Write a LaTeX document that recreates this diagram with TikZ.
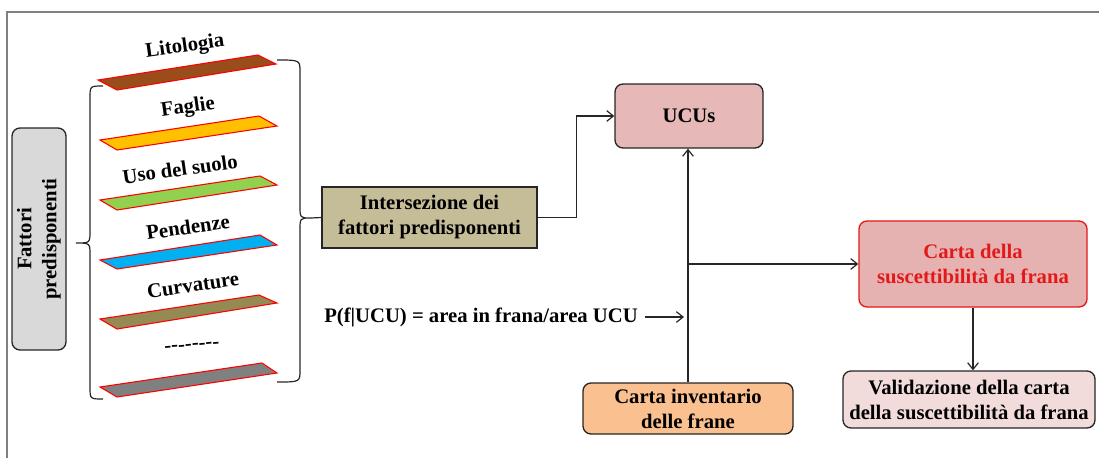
\documentclass[tikz,border=0pt]{standalone}
\usepackage{fontspec}
\setmainfont{Liberation Serif}
\usetikzlibrary{arrows.meta}
\definecolor{fattgray}{HTML}{D9D9D9}
\definecolor{tanbox}{HTML}{C4BD97}
\definecolor{ucupink}{HTML}{E6B8B7}
\definecolor{suspink}{HTML}{E6B2B1}
\definecolor{valpink}{HTML}{F2DCDB}
\definecolor{invorange}{HTML}{FAC090}
\definecolor{susred}{RGB}{225,25,25}
\definecolor{lito}{RGB}{153,77,26}
\definecolor{fagl}{HTML}{FFC000}
\definecolor{usos}{HTML}{92D050}
\definecolor{pend}{HTML}{00B0F0}
\definecolor{curv}{HTML}{948A54}
\definecolor{lastl}{HTML}{808080}
\definecolor{frame}{RGB}{128,128,128}
\begin{document}
\begin{tikzpicture}[x=0.75pt,y=-0.75pt,
  txt/.style={font=\fontsize{15.5}{18.75}\selectfont\bfseries, align=center},
  box/.style={txt, draw=black!85, line width=1pt, inner sep=2pt},
  rbox/.style={box, rounded corners=6pt},
  arr/.style={-{Straight Barb[length=5pt,width=8pt]}, line width=0.9pt, draw=black!85},
  brace/.style={line width=0.9pt, draw=black!85},
  layer/.style={draw=red, line width=0.8pt},
  lbl/.style={txt, rotate=8, inner sep=0pt}]
\useasboundingbox (0,0) rectangle (1099,458);
\draw[frame, line width=1.2pt] (1099,12) -- (7,12) -- (7,458);

% nodes
\node[rbox, fill=fattgray, rotate=90, minimum width=166.5pt, minimum height=40.5pt] (fat) at (39,239) {Fattori\\predisponenti};
\node[box, fill=tanbox, minimum width=161.25pt, minimum height=45.75pt] (int) at (429.5,217.5) {Intersezione dei\\fattori predisponenti};
\node[rbox, fill=ucupink, minimum width=111pt, minimum height=48pt] (ucu) at (689,116) {UCUs};
\node[rbox, fill=invorange, minimum width=157.5pt, minimum height=38.25pt] (inv) at (688,408.5) {Carta inventario\\delle frane};
\node[rbox, draw=susred, fill=suspink, text=susred, minimum width=171pt, minimum height=64.5pt] (sus) at (973,264) {Carta della\\suscettibilità da frana};
\node[rbox, fill=valpink, minimum width=189pt, minimum height=42.75pt] (val) at (969,399.5) {Validazione della carta\\della suscettibilità da frana};
\node[txt, inner sep=0pt, anchor=west] (pf) at (324,317) {P(f|UCU) = area in frana/area UCU};

% layers
\filldraw[layer, fill=lito]  (98,80)  -- (117,90)  -- (276,64)  -- (258,55)  -- cycle;
\filldraw[layer, fill=fagl]  (100,140) -- (117,150) -- (277,126) -- (259,116) -- cycle;
\filldraw[layer, fill=usos]  (100,200) -- (117,210) -- (277,185) -- (260,176) -- cycle;
\filldraw[layer, fill=pend]  (100,260) -- (117,269) -- (277,245) -- (260,235) -- cycle;
\filldraw[layer, fill=curv]  (100,319) -- (117,329) -- (277,303) -- (259,295) -- cycle;
\filldraw[layer, fill=lastl] (100,387) -- (117,397) -- (277,373) -- (262,363) -- cycle;

\node[lbl] (l1) at (185,47) {Litologia};
\node[lbl] (l2) at (188,108) {Faglie};
\node[lbl] (l3) at (180,169) {Uso del suolo};
\node[lbl] (l4) at (188,227) {Pendenze};
\node[lbl] (l5) at (193,285) {Curvature};
\node[lbl, rotate=-3] (l6) at (192,347) {\mbox{-}\mbox{-}\mbox{-}\mbox{-}\mbox{-}\mbox{-}\mbox{-}\mbox{-}};

% braces
\draw[brace] (103,86) .. controls (90,86) .. (90,98) -- (90,231)
  .. controls (90,243) .. (76,243) .. controls (90,243) .. (90,255)
  -- (90,387) .. controls (90,399) .. (103,399);
\coordinate (rtip) at (311,218);
\draw[brace] (277,60) .. controls (300,60) .. (300,72) -- (300,206)
  .. controls (300,218) .. (rtip) .. controls (300,218) .. (300,230)
  -- (300,370) .. controls (300,382) .. (277,382);
\draw[brace] (rtip) -- (int.west);

% connectors
\draw[arr] (int.east) -- ++(39,0) |- (ucu.west);
\draw[arr] (inv.north) -- (inv.north |- ucu.south);
\coordinate (j) at (inv.north |- sus.west);
\draw[arr] (j) -- (sus.west);
\coordinate (pfend) at (684,317);
\draw[arr] ([xshift=5pt]pf.east) -- (pfend);
\draw[arr] (sus.south) -- (sus.south |- val.north);
\end{tikzpicture}
\end{document}
